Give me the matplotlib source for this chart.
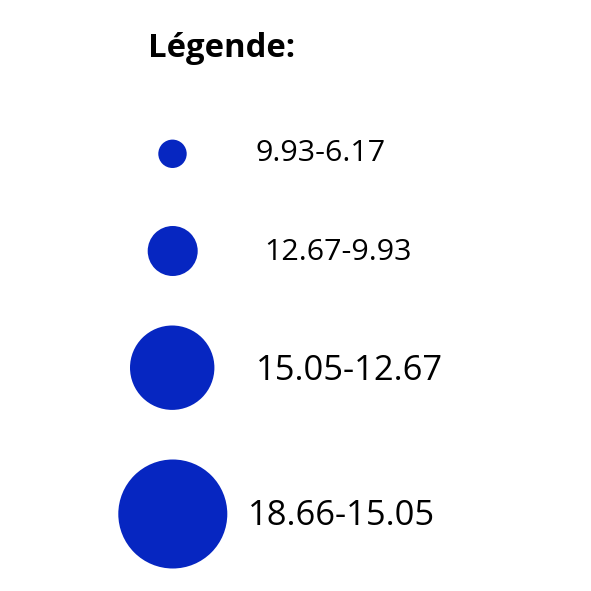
import matplotlib
matplotlib.use("Agg")
import matplotlib.pyplot as plt
from matplotlib.patches import Circle

title = "Légende:"
labels = ["9.93-6.17", "12.67-9.93", "15.05-12.67", "18.66-15.05"]

# layout / style (pixels)
circle_x = [172.5, 172.7, 172.2, 172.8]
circle_y = [153.8, 251.0, 367.7, 514.0]
circle_r = [14.2, 25.0, 42.2, 54.5]
label_x = [255.5, 264.5, 255.5, 247.5]
label_y = [161, 260, 380, 525]
label_fs = [21.9, 21.9, 24.8, 24.8]
color = "#0626c1"

fig = plt.figure(figsize=(5.91, 5.91), dpi=100)
ax = fig.add_axes([0, 0, 1, 1])
ax.set_xlim(0, 591)
ax.set_ylim(591, 0)
ax.set_aspect("equal")
ax.axis("off")

ax.text(148, 56.7, title, fontsize=23.7, fontweight="bold", family="Open Sans",
        ha="left", va="baseline", color="black")

for cx, cy, r, lab, lx, ly, fs in zip(circle_x, circle_y, circle_r, labels, label_x, label_y, label_fs):
    ax.add_patch(Circle((cx, cy), r, facecolor=color, edgecolor="none"))
    ax.text(lx, ly, lab, fontsize=fs, family="Open Sans", ha="left", va="baseline", color="black")

fig.savefig("out.png", dpi=100, facecolor="white")
